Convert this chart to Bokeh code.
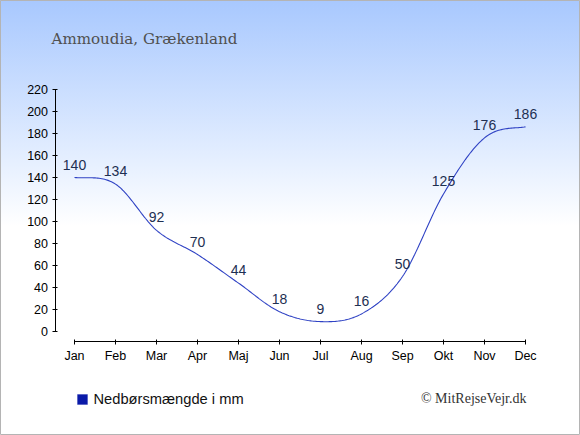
import numpy as np
from bokeh.plotting import figure
from bokeh.models import (ColumnDataSource, LabelSet, Label, BoxAnnotation, FixedTicker,
                          Range1d, LinearAxis)
from bokeh.core.properties import value
from bokeh.embed import file_html
from bokeh.resources import INLINE

months = ["Jan", "Feb", "Mar", "Apr", "Maj", "Jun", "Jul", "Aug", "Sep", "Okt", "Nov", "Dec"]
rain = [140, 134, 92, 70, 44, 18, 9, 16, 50, 125, 176, 186]
title_text = "Ammoudia, Grækenland"
legend_text = "Nedbørsmængde i mm"
credit_text = "© MitRejseVejr.dk"
y_ticks = list(range(0, 221, 20))

x = np.arange(len(months), dtype=float)
y = np.array(rain, dtype=float)

# smooth (cubic Hermite / Catmull-Rom) curve through the data points
m = np.zeros_like(y)
m[1:-1] = (y[2:] - y[:-2]) / 2.0
m[0] = (y[1] - y[0]) / 2.0
m[-1] = (y[-1] - y[-2]) / 2.0
cx, cy = [], []
for i in range(len(x) - 1):
    t = np.linspace(0, 1, 30, endpoint=(i == len(x) - 2))
    h00 = 2 * t**3 - 3 * t**2 + 1
    h10 = t**3 - 2 * t**2 + t
    h01 = -2 * t**3 + 3 * t**2
    h11 = t**3 - t**2
    cx.extend(list(x[i] + t))
    cy.extend(list(h00 * y[i] + h10 * m[i] + h01 * y[i + 1] + h11 * m[i + 1]))

W, H = 580, 435
PX_MONTH = 41.0
PX_UNIT = 1.1
X0, Y0 = 74.0, 331.0  # pixel of (Jan, 0)

p = figure(width=W, height=H, output_backend="svg", toolbar_location=None,
           x_range=Range1d(-X0 / PX_MONTH, (W - X0) / PX_MONTH),
           y_range=Range1d((Y0 - H) / PX_UNIT, Y0 / PX_UNIT),
           x_axis_type=None, y_axis_type=None,
           min_border=0, min_border_left=0, min_border_right=0,
           min_border_top=0, min_border_bottom=0)
p.border_fill_color = None
p.background_fill_color = None
p.outline_line_color = "#b4b4b4"
p.styles = {"background": "linear-gradient(to bottom, #a8c8fe 0%, #e2edff 35%, #ffffff 52%, #ffffff 100%)"}
p.grid.visible = False

xaxis = LinearAxis(fixed_location=-10 / PX_UNIT)
yaxis = LinearAxis(fixed_location=-19.5 / PX_MONTH)
p.add_layout(xaxis, "below")
p.add_layout(yaxis, "left")

for ax in (xaxis, yaxis):
    ax.axis_line_color = "#000000"
    ax.major_tick_line_color = "#000000"
    ax.minor_tick_line_color = None
    ax.major_tick_in = 2
    ax.major_tick_out = 3
    ax.major_label_text_font = "Liberation Sans"
    ax.major_label_text_font_size = "12.5px"
    ax.major_label_text_color = "#000000"

xaxis.ticker = FixedTicker(ticks=list(x))
xaxis.major_label_overrides = {i: mth for i, mth in enumerate(months)}
xaxis.bounds = (0, 11)
xaxis.major_label_standoff = 4
yaxis.ticker = FixedTicker(ticks=y_ticks)
yaxis.bounds = (0, 220)
yaxis.major_label_standoff = 4

p.line(cx, cy, line_color="#2f42c4", line_width=1.1)

src = ColumnDataSource(dict(x=x, y=y, t=[str(v) for v in rain]))
labels = LabelSet(x="x", y="y", text="t", source=src, y_offset=8, text_align="center",
                  text_baseline="alphabetic", text_font=value("Liberation Sans"),
                  text_font_size="14px", text_color="#1e2f52")
p.add_layout(labels)

p.add_layout(Label(x=51, y=H - 38, x_units="screen", y_units="screen", text=title_text,
                   text_font="DejaVu Serif", text_font_size="15.1px", text_color="#505050",
                   text_baseline="alphabetic"))
p.add_layout(Label(x=526, y=H - 398, x_units="screen", y_units="screen", text=credit_text,
                   text_font="Liberation Serif", text_font_size="14px", text_color="#333333",
                   text_baseline="middle", text_align="right"))

p.add_layout(BoxAnnotation(left=77, right=87, bottom=H - 404, top=H - 394,
                           left_units="screen", right_units="screen",
                           bottom_units="screen", top_units="screen",
                           fill_color="#0a1aa8", fill_alpha=1.0, line_color="#0a1aa8"))
p.add_layout(Label(x=93, y=H - 398, x_units="screen", y_units="screen", text=legend_text,
                   text_font="Liberation Sans", text_font_size="14.7px", text_color="#111111",
                   text_baseline="middle"))

open("out.html", "w").write(file_html(p, INLINE))
